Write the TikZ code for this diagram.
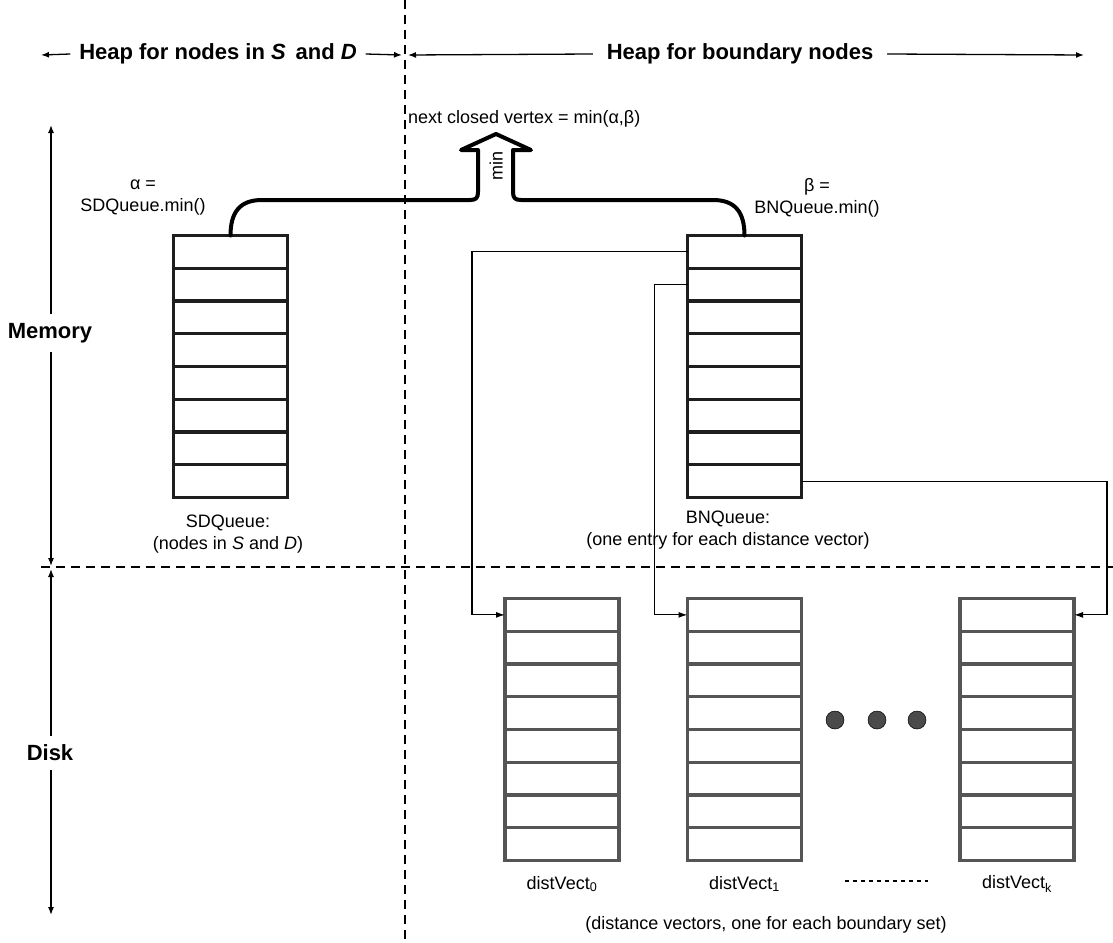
\documentclass[tikz,border=0pt]{standalone}
\usepackage{fontspec}
\setmainfont{Liberation Sans}
\usetikzlibrary{arrows.meta,calc}
\definecolor{qcol}{HTML}{1E1E1E}
\definecolor{vcol}{HTML}{555555}
\definecolor{dotcol}{HTML}{4A4A4A}
\begin{document}
\begin{tikzpicture}[x=1pt,y=-1pt,
  every node/.style={inner sep=0pt, outer sep=0pt},
  txt/.style={font=\fontsize{18}{22}\selectfont, align=center},
  hdr/.style={font=\fontsize{22}{26}\selectfont\bfseries},
  arr/.style={line width=1.3pt, -{Latex[length=8pt,width=6pt]}},
  guide/.style={line width=1.4pt, dash pattern=on 9pt off 6pt},
  link/.style={line width=1.2pt, -{Latex[length=9pt,width=6pt]}},
  heap/.style={draw=#1, line width=3.3pt, minimum width=114pt, minimum height=262pt},
  flow/.style={line width=4pt, line join=round, line cap=round},
  dot/.style={circle, fill=dotcol, draw=black, line width=0.5pt, minimum size=18pt},
]
\useasboundingbox (0,0) rectangle (1113,942);
\fill[white] (0,0) rectangle (1113,942);

% guide lines splitting memory/disk and the two heaps
\draw[guide] (405,0) -- (405,942);
\draw[guide] (41,567) -- (1113,567);

% column headers
\node[hdr, inner xsep=9pt] (hleft) at (218,54) {Heap for nodes in \textit{S}\, and \textit{D}};
\coordinate (hlt) at (41,55);
\coordinate (hlr) at (402,55);
\draw[arr] (hleft.west) -- (hlt);
\draw[arr] (hleft.east) -- (hlr);
\node[hdr, inner xsep=14pt] (hright) at (740,54) {Heap for boundary nodes};
\coordinate (hrl) at (408,55);
\coordinate (hrr) at (1084,55);
\draw[arr] (hright.west) -- (hrl);
\draw[arr] (hright.east) -- (hrr);

% row headers
\node[hdr, inner ysep=9pt] (mem) at (50,333) {Memory};
\node[hdr, inner ysep=9pt] (dsk) at (50,753) {Disk};
\coordinate (memt) at (51,125);
\coordinate (memb) at (51,566);
\coordinate (dskt) at (51,569);
\coordinate (dskb) at (51,915);
\draw[arr] (mem.north -| memt) -- (memt);
\draw[arr] (mem.south -| memb) -- (memb);
\draw[arr] (dsk.north -| dskt) -- (dskt);
\draw[arr] (dsk.south -| dskb) -- (dskb);

% in-memory priority queues
\node[heap=qcol] (sd) at (230.5,366.5) {};
\node[heap=qcol] (bn) at (744.5,366.5) {};
% distance vectors on disk
\node[heap=vcol] (v0) at (562,729.5) {};
\node[heap=vcol] (v1) at (744.5,729.5) {};
\node[heap=vcol] (vk) at (1017,729.5) {};

\foreach \n/\c in {sd/qcol,bn/qcol,v0/vcol,v1/vcol,vk/vcol}
  \foreach \i in {1,...,7}
    \draw[line width=3.3pt, draw=\c]
      ($(\n.north west)!\i/8!(\n.south west)$) -- ($(\n.north east)!\i/8!(\n.south east)$);

% the two minima merging into the next closed vertex
\draw[flow] (sd.north) .. controls (230.5,212) and (240,200) .. (262,200)
  -- (470,200) .. controls (476,200) and (478,198) .. (478,192)
  -- (478,150) -- (461,150) -- (496,134) -- (531,150) -- (513,150)
  -- (513,192) .. controls (513,198) and (515,200) .. (521,200)
  -- (713,200) .. controls (735,200) and (744.5,212) .. (bn.north);
\node[txt, rotate=90] (minlbl) at (496,166) {min};
\node[txt, anchor=west] (next) at (408,119) {next closed vertex = min(α,β)};
\node[txt] (alpha) at (143,198) {α =\\SDQueue.min()};
\node[txt] (beta) at (817,198) {β =\\BNQueue.min()};

% captions
\node[txt] (sdcap) at (228,534) {SDQueue:\\(nodes in \textit{S} and \textit{D})};
\node[txt] (bncap) at (728,530) {BNQueue:\\(one entry for each distance vector)};
\node[txt] (l0) at (562,884) {distVect\textsubscript{0}};
\node[txt] (l1) at (744.5,884) {distVect\textsubscript{1}};
\node[txt] (lk) at (1017,884) {distVect\textsubscript{k}};
\draw[line width=1.2pt, dash pattern=on 4pt off 4pt] (845,881) -- (928,881);
\node[txt] (cap) at (766,925) {(distance vectors, one for each boundary set)};

% ellipsis between the vectors
\node[dot] (d1) at (835,720) {};
\node[dot] (d2) at (877,720) {};
\node[dot] (d3) at (917,720) {};

% pointers from queue entries to their distance vectors
\coordinate (b1) at ($(bn.north west)!1/16!(bn.south west)$);
\coordinate (b2) at ($(bn.north west)!3/16!(bn.south west)$);
\coordinate (b8) at ($(bn.north east)!15/16!(bn.south east)$);
\coordinate (t0) at ($(v0.north west)!1/16!(v0.south west)$);
\coordinate (t1) at ($(v1.north west)!1/16!(v1.south west)$);
\coordinate (tk) at ($(vk.north east)!1/16!(vk.south east)$);
\draw[link] (b1) -| ($(t0)+(-33,0)$) -- (t0);
\draw[link] (b2) -| ($(t1)+(-33,0)$) -- (t1);
\draw[link] (b8) -| ($(tk)+(33,0)$) -- (tk);
\end{tikzpicture}
\end{document}
